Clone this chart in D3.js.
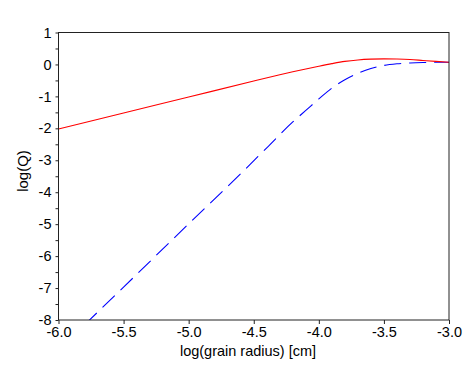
<!DOCTYPE html>
<html>
<head>
<meta charset="utf-8">
<script src="https://cdn.jsdelivr.net/npm/d3@7/dist/d3.min.js"></script>
<style>
  body { margin: 0; background: #fff; }
  svg { display: block; font-family: "Liberation Sans", Arial, sans-serif; }
</style>
</head>
<body>
<svg id="chart" width="463" height="368"></svg>
<script>
// log(grain radius) values
const redX = [-6.0, -5.5, -5.0, -4.5, -4.3, -4.2, -4.1, -4.0, -3.9, -3.8, -3.7, -3.6, -3.5, -3.4, -3.3, -3.2, -3.1, -3.0];
const redY = [-2.02, -1.52, -1.02, -0.52, -0.325, -0.23, -0.14, -0.055, 0.025, 0.095, 0.14, 0.165, 0.175, 0.17, 0.155, 0.125, 0.095, 0.07];

const blueX = [-5.8, -5.5, -5.0, -4.6, -4.4, -4.2, -4.1, -4.0, -3.9, -3.8, -3.7, -3.6, -3.5, -3.4, -3.3, -3.2, -3.1, -3.0];
const blueY = [-8.15, -6.97, -4.99, -3.42, -2.61, -1.80, -1.44, -1.08, -0.74, -0.48, -0.28, -0.13, -0.03, 0.02, 0.045, 0.06, 0.068, 0.07];

const xTicks = [-6.0, -5.5, -5.0, -4.5, -4.0, -3.5, -3.0];
const yTicks = [1, 0, -1, -2, -3, -4, -5, -6, -7, -8];
const yMinor = [0.5, -0.5, -1.5, -2.5, -3.5, -4.5, -5.5, -6.5, -7.5];

const margin = { top: 32.5, right: 14, bottom: 48, left: 58.5 };
const width = 463, height = 368;

const svg = d3.select('#chart');

const x = d3.scaleLinear().domain([-6, -3]).range([margin.left, width - margin.right]);
const y = d3.scaleLinear().domain([-8, 1]).range([height - margin.bottom, margin.top]);

svg.append('defs').append('clipPath').attr('id', 'clip')
  .append('rect')
  .attr('x', x(-6)).attr('y', y(1))
  .attr('width', x(-3) - x(-6)).attr('height', y(-8) - y(1));

// curves
const line = d3.line()
  .x(d => x(d[0]))
  .y(d => y(d[1]))
  .curve(d3.curveMonotoneX);

const plot = svg.append('g').attr('clip-path', 'url(#clip)');

plot.append('path')
  .datum(blueX.map((v, i) => [v, blueY[i]]))
  .attr('d', line)
  .attr('fill', 'none')
  .attr('stroke', '#0000ff')
  .attr('stroke-width', 1.1)
  .attr('stroke-dasharray', '17,8');

plot.append('path')
  .datum(redX.map((v, i) => [v, redY[i]]))
  .attr('d', line)
  .attr('fill', 'none')
  .attr('stroke', '#ff0000')
  .attr('stroke-width', 1.1);

// frame
svg.append('rect')
  .attr('x', x(-6)).attr('y', y(1))
  .attr('width', x(-3) - x(-6)).attr('height', y(-8) - y(1))
  .attr('fill', 'none')
  .attr('stroke', '#222')
  .attr('stroke-width', 1);

// axes (plain hyphen for negatives, like the original)
const hyphen = f => d => f(d).replace('\u2212', '-');

const xAxis = d3.axisBottom(x)
  .tickValues(xTicks)
  .tickFormat(hyphen(d3.format('.1f')))
  .tickSize(4)
  .tickPadding(3);

const yAxis = d3.axisLeft(y)
  .tickValues(yTicks)
  .tickFormat(hyphen(d3.format('d')))
  .tickSize(3)
  .tickPadding(4);

const gx = svg.append('g')
  .attr('transform', `translate(0,${y(-8)})`)
  .call(xAxis);

const gy = svg.append('g')
  .attr('transform', `translate(${x(-6)},0)`)
  .call(yAxis);

svg.append('g')
  .attr('transform', `translate(${x(-6)},0)`)
  .call(d3.axisLeft(y).tickValues(yMinor).tickFormat('').tickSize(3))
  .select('.domain').remove();

[gx, gy].forEach(g => {
  g.select('.domain').remove();
  g.selectAll('text')
    .attr('fill', '#000')
    .style('font-size', '14.5px')
    .style('font-family', '"Liberation Sans", Arial, sans-serif');
});
svg.selectAll('line').attr('stroke', '#222');

// axis titles
svg.append('text')
  .attr('x', 248)
  .attr('y', 356)
  .attr('text-anchor', 'middle')
  .style('font-size', '14.5px')
  .text('log(grain radius) [cm]');

svg.append('text')
  .attr('transform', `translate(28,171) rotate(-90)`)
  .attr('text-anchor', 'middle')
  .style('font-size', '15px')
  .text('log(Q)');
</script>
</body>
</html>
